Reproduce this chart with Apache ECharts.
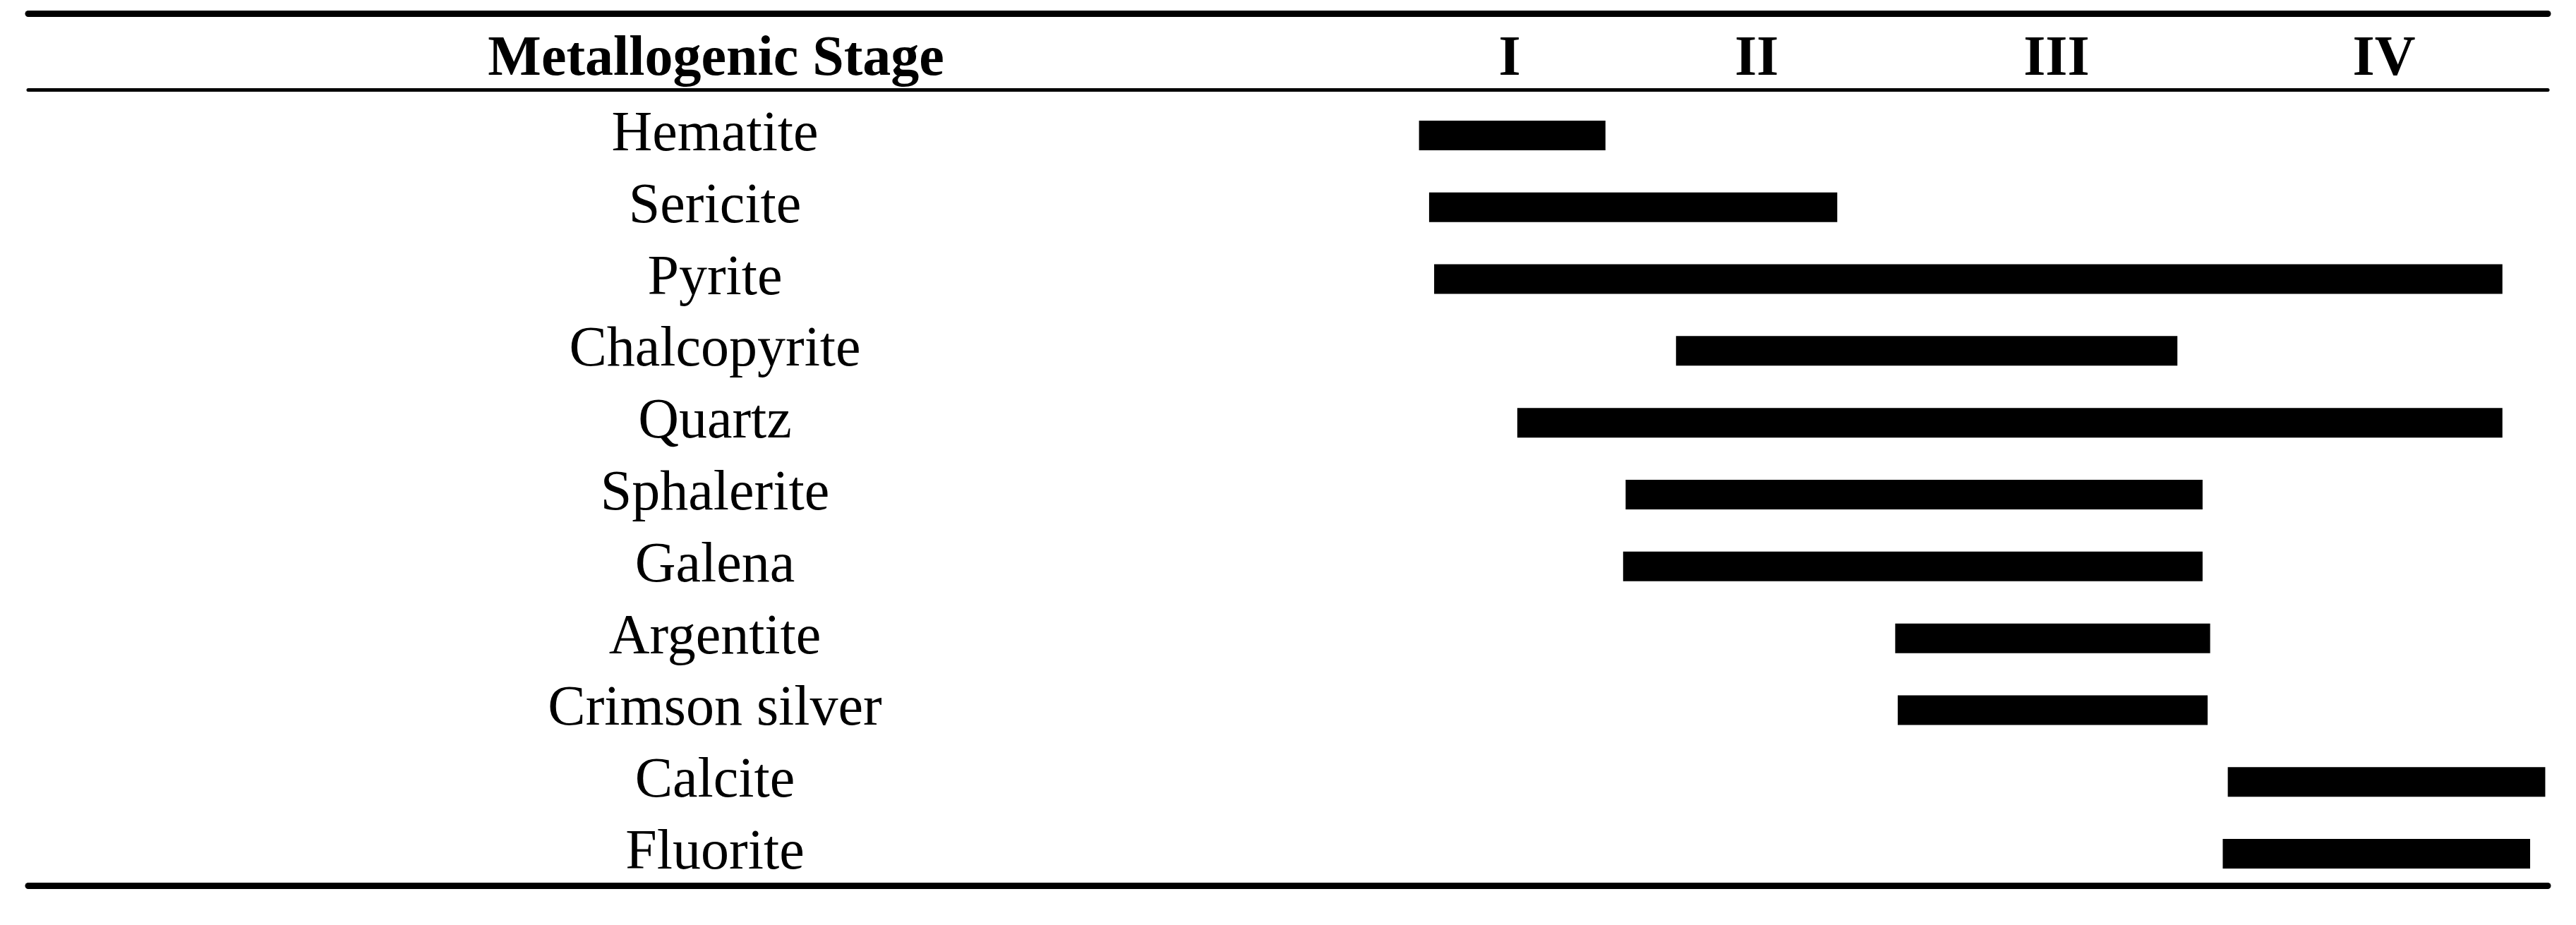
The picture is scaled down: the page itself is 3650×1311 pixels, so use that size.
<!DOCTYPE html>
<html>
<head>
<meta charset="utf-8">
<title>Metallogenic Stage</title>
<script src="https://cdn.jsdelivr.net/npm/echarts@6/dist/echarts.min.js"></script>
<style>
    html, body { margin: 0; padding: 0; background: #fff; }
    #chart { width: 3650px; height: 1311px; }
</style>
</head>
<body>
<div id="chart"></div>
<script>
// minerals, top to bottom
var minerals = ['Hematite', 'Sericite', 'Pyrite', 'Chalcopyrite', 'Quartz', 'Sphalerite',
    'Galena', 'Argentite', 'Crimson silver', 'Calcite', 'Fluorite'];
// where each bar starts / ends on the relative time scale (0 - 100)
var barStart = [55.2, 55.6, 55.8, 65.4, 59.1, 63.4, 63.3, 74.1, 74.2, 87.3, 87.1];
var barEnd = [62.6, 71.8, 98.2, 85.3, 98.2, 86.3, 86.3, 86.6, 86.5, 99.9, 99.3];
// header row: column title, then the stages with their centres on the same scale
var headerTitle = 'Metallogenic Stage';
var headerPos = 27.3;
var stages = ['I', 'II', 'III', 'IV'];
var stagePos = [58.8, 68.6, 80.5, 93.5];

var font = 'Liberation Serif';
var barLen = barEnd.map(function (v, i) { return +(v - barStart[i]).toFixed(1); });

var headerData = [[headerPos, 0, headerTitle]].concat(
    stages.map(function (s, i) { return [stagePos[i], 0, s]; }));

var chart = echarts.init(document.getElementById('chart'));
var option = {
    animation: false,
    backgroundColor: '#fff',
    grid: [
        { left: 40, right: 40, top: 141, bottom: 50 },      // rows
        { left: 40, right: 40, top: 19.5, height: 108 }     // header
    ],
    xAxis: [
        {
            gridIndex: 0, type: 'value', min: 0, max: 100, position: 'bottom', offset: -5.5,
            axisLine: { show: true, lineStyle: { color: '#000', width: 9 } },
            axisTick: { show: false }, axisLabel: { show: false }, splitLine: { show: false }
        },
        {
            gridIndex: 1, type: 'value', min: 0, max: 100, position: 'bottom',
            axisLine: { show: true, lineStyle: { color: '#000', width: 5 } },
            axisTick: { show: false }, axisLabel: { show: false }, splitLine: { show: false }
        },
        {
            gridIndex: 1, type: 'value', min: 0, max: 100, position: 'top',
            axisLine: { show: true, lineStyle: { color: '#000', width: 9 } },
            axisTick: { show: false }, axisLabel: { show: false }, splitLine: { show: false }
        }
    ],
    yAxis: [
        {
            gridIndex: 0, type: 'category', data: minerals, inverse: true,
            axisLine: { show: false }, axisTick: { show: false }, splitLine: { show: false },
            axisLabel: {
                interval: 0, inside: true, margin: 973, align: 'center',
                fontFamily: font, fontSize: 80, color: '#000',
                padding: [0, 0, 10, 0]
            }
        },
        {
            gridIndex: 1, type: 'category', data: ['header'],
            axisLine: { show: false }, axisTick: { show: false }, splitLine: { show: false },
            axisLabel: { show: false }
        }
    ],
    series: [
        {
            name: 'base', type: 'bar', stack: 'span', xAxisIndex: 0, yAxisIndex: 0,
            barWidth: 42, itemStyle: { color: 'transparent' },
            silent: true, data: barStart
        },
        {
            name: 'span', type: 'bar', stack: 'span', xAxisIndex: 0, yAxisIndex: 0,
            barWidth: 42, itemStyle: { color: '#000' },
            data: barLen
        },
        {
            name: 'header', type: 'scatter', xAxisIndex: 1, yAxisIndex: 1,
            symbolSize: 0, itemStyle: { opacity: 1, color: '#000' },
            label: {
                show: true, position: 'inside', offset: [0, 12],
                fontFamily: font, fontSize: 80, fontWeight: 'bold', color: '#000',
                textBorderWidth: 0, opacity: 1,
                formatter: function (p) { return p.value[2]; }
            },
            data: headerData
        }
    ]
};
chart.setOption(option);
</script>
</body>
</html>
